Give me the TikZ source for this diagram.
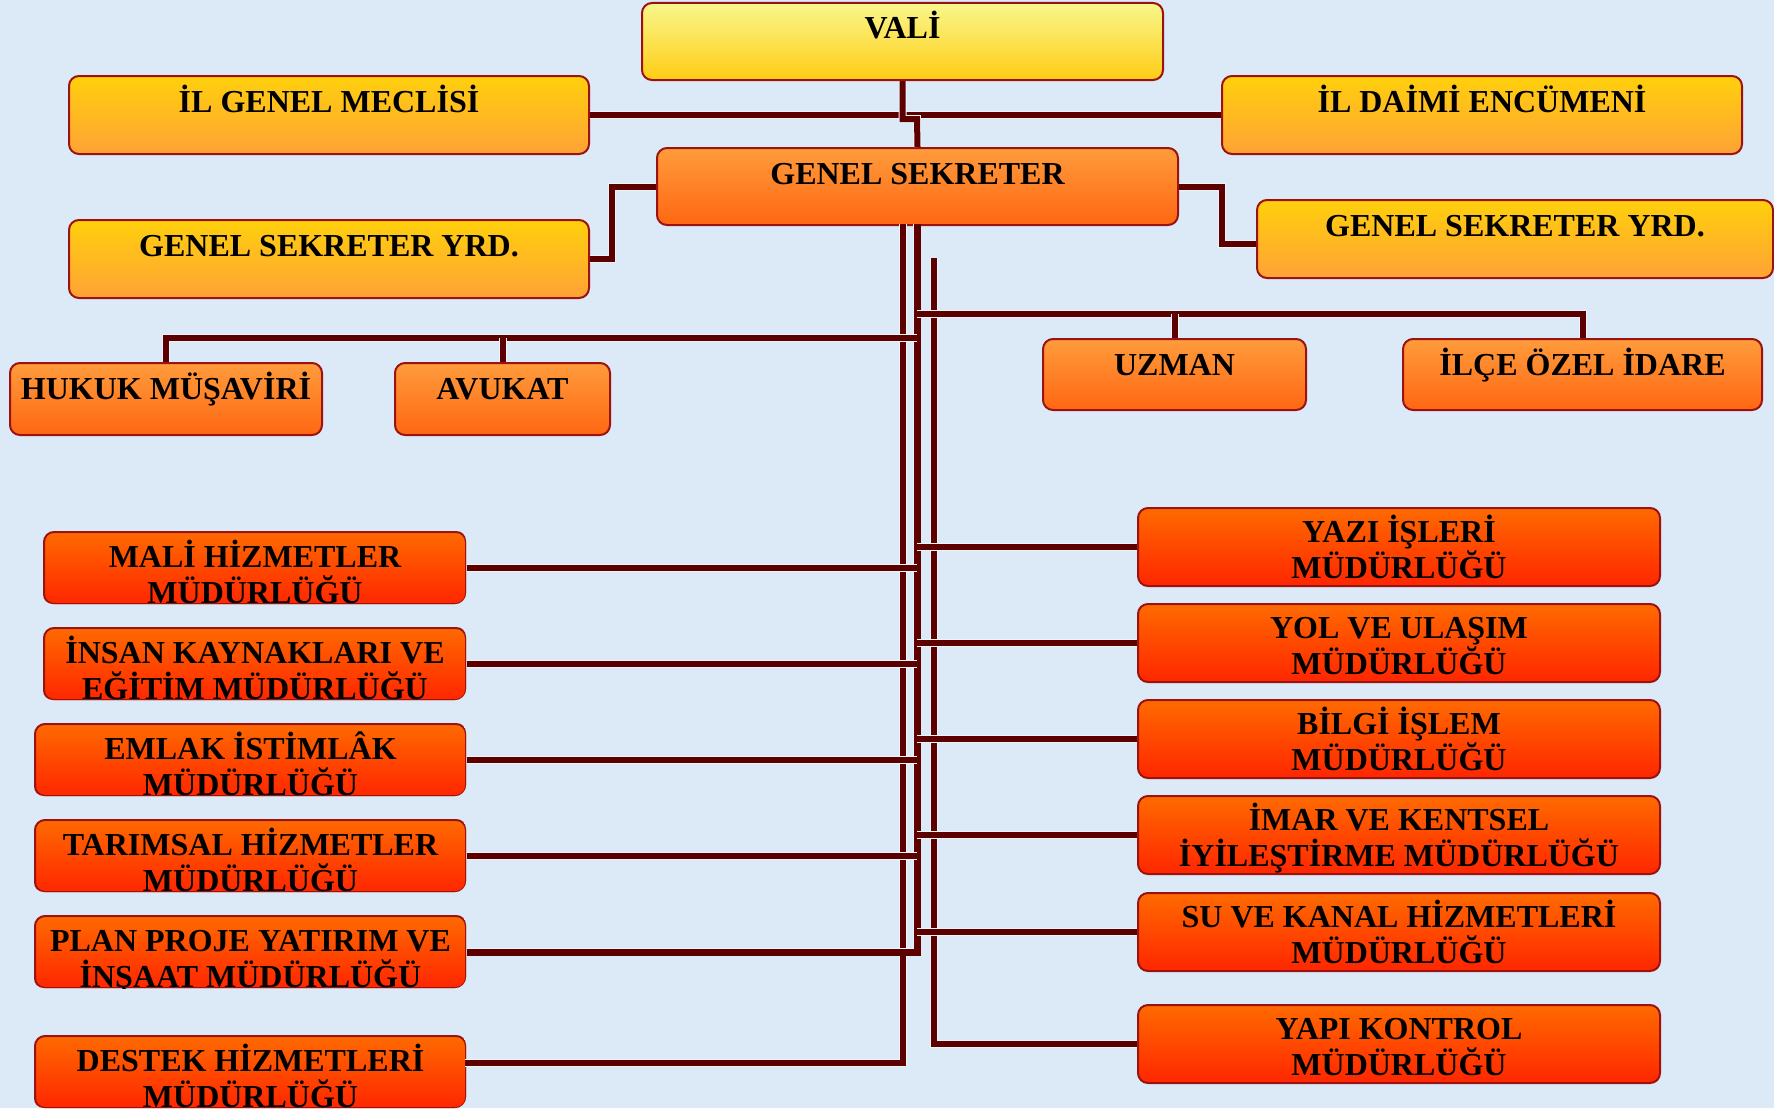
\documentclass[tikz,border=0pt]{standalone}
\usepackage{fontspec}
\setmainfont{Liberation Serif}
\usepackage{tikz}
\usetikzlibrary{calc}

\definecolor{sky}{HTML}{DCE9F6}
\definecolor{linkred}{HTML}{5C0000}
\definecolor{linkedge}{HTML}{EEF3FA}
\definecolor{edgered}{HTML}{9A1212}
\definecolor{valitop}{HTML}{F9F78C}
\definecolor{valibot}{HTML}{FFCC14}
\definecolor{goldtop}{HTML}{FFD00C}
\definecolor{goldbot}{HTML}{FFA236}
\definecolor{orangetop}{HTML}{FF9C3C}
\definecolor{orangebot}{HTML}{FF6612}
\definecolor{redtop}{HTML}{FF6A00}
\definecolor{redbot}{HTML}{FF2600}

\begin{document}
\begin{tikzpicture}[x=1pt, y=-1pt,
	unit/.style={draw=edgered, line width=2pt, rounded corners=10pt, inner sep=0pt,
	  anchor=north west, align=center, font=\fontsize{32}{36}\selectfont\bfseries},
	valibox/.style={unit, top color=valitop, bottom color=valibot},
	goldbox/.style={unit, top color=goldtop, bottom color=goldbot},
	orangebox/.style={unit, top color=orangetop, bottom color=orangebot},
	redbox/.style={unit, top color=redtop, bottom color=redbot},
	link/.style={draw=linkred, line width=6pt, preaction={draw=linkedge, line width=8pt}}]

		\useasboundingbox (0,0) rectangle (1774,1108);
		\fill[sky] (0,0) rectangle (1774,1108);

		\node[valibox, minimum width=521pt, text height=36pt, text depth=41pt] (vali) at (641,2) {VALİ};
		\node[goldbox, minimum width=520pt, text height=36pt, text depth=42pt] (meclis) at (68,75) {İL GENEL MECLİSİ};
		\node[goldbox, minimum width=520pt, text height=36pt, text depth=42pt] (encumen) at (1221,75) {İL DAİMİ ENCÜMENİ};
		\node[orangebox, minimum width=521pt, text height=36pt, text depth=41pt] (gs) at (656,147) {GENEL SEKRETER};
		\node[goldbox, minimum width=520pt, text height=36pt, text depth=42pt] (gsyl) at (68,219) {GENEL SEKRETER YRD.};
		\node[goldbox, minimum width=516pt, text height=36pt, text depth=42pt] (gsyr) at (1256,199) {GENEL SEKRETER YRD.};

		\node[orangebox, minimum width=312pt, text height=36pt, text depth=36pt] (hukuk) at (9,362) {HUKUK MÜŞAVİRİ};
		\node[orangebox, minimum width=215pt, text height=36pt, text depth=36pt] (avukat) at (394,362) {AVUKAT};
		\node[orangebox, minimum width=263pt, text height=36pt, text depth=35pt] (uzman) at (1042,338) {UZMAN};
		\node[orangebox, minimum width=359pt, text height=36pt, text depth=35pt] (ilce) at (1402,338) {İLÇE ÖZEL İDARE};

		\begin{scope}
			\clip[rounded corners=11pt] (42,530) rectangle (466,604) (42,626) rectangle (466,700)
			  (33,722) rectangle (466,796) (33,818) rectangle (466,892)
			  (33,914) rectangle (466,988) (33,1034) rectangle (466,1108);
			\node[redbox, minimum width=422pt, text height=71.5pt, text depth=0.5pt] (mali) at (43,531) {MALİ HİZMETLER\\MÜDÜRLÜĞÜ};
			\node[redbox, minimum width=422pt, text height=71.5pt, text depth=0.5pt] (insan) at (43,627) {İNSAN KAYNAKLARI VE\\EĞİTİM MÜDÜRLÜĞÜ};
			\node[redbox, minimum width=431pt, text height=71.5pt, text depth=0.5pt] (emlak) at (34,723) {EMLAK İSTİMLÂK\\MÜDÜRLÜĞÜ};
			\node[redbox, minimum width=431pt, text height=71.5pt, text depth=0.5pt] (tarim) at (34,819) {TARIMSAL HİZMETLER\\MÜDÜRLÜĞÜ};
			\node[redbox, minimum width=431pt, text height=71.5pt, text depth=0.5pt] (plan) at (34,915) {PLAN PROJE YATIRIM VE\\İNŞAAT MÜDÜRLÜĞÜ};
			\node[redbox, minimum width=431pt, text height=71.5pt, text depth=0.5pt] (destek) at (34,1035) {DESTEK HİZMETLERİ\\MÜDÜRLÜĞÜ};
		\end{scope}

		\node[redbox, minimum width=522pt, text height=70pt, text depth=8pt] (yazi) at (1137,507) {YAZI İŞLERİ\\MÜDÜRLÜĞÜ};
		\node[redbox, minimum width=522pt, text height=70pt, text depth=8pt] (yol) at (1137,603) {YOL VE ULAŞIM\\MÜDÜRLÜĞÜ};
		\node[redbox, minimum width=522pt, text height=70pt, text depth=8pt] (bilgi) at (1137,699) {BİLGİ İŞLEM\\MÜDÜRLÜĞÜ};
		\node[redbox, minimum width=522pt, text height=70pt, text depth=8pt] (imar) at (1137,795) {İMAR VE KENTSEL\\İYİLEŞTİRME MÜDÜRLÜĞÜ};
		\node[redbox, minimum width=522pt, text height=70pt, text depth=8pt] (su) at (1137,892) {SU VE KANAL HİZMETLERİ\\MÜDÜRLÜĞÜ};
		\node[redbox, minimum width=522pt, text height=70pt, text depth=8pt] (yapi) at (1137,1004) {YAPI KONTROL\\MÜDÜRLÜĞÜ};

		\coordinate (jog) at (917,119);
		\coordinate (gsrbend) at (1222,244);
		\coordinate (trunkA) at (903,224);
		\coordinate (trunkB) at (917,224);
		\coordinate (trunkC) at (934,258);
		\coordinate (uzbus) at (917,314);
		\coordinate (hkbus) at (917,338);
		\coordinate (destekin) at (465,1063);

		\draw[link] (meclis.east) -- (encumen.west);
		\draw[link] (vali.south) |- (jog) -- (gs.north);
		\draw[link] (gs.west) -- ++(-44,0) |- (gsyl.east);
		\draw[link] (gs.east) -| (gsrbend) -- (gsyr.west |- gsrbend);

		\draw[link] (trunkA) |- (destekin);
		\draw[link] (trunkC) |- (yapi.west);
		\draw[link, line width=7pt] (trunkB) |- (plan.east);

		\draw[link] (hkbus) -| (hukuk.north);
		\draw[link] (avukat.north) -- (avukat.north |- hkbus);
		\draw[link] (uzbus) -| (ilce.north);
		\draw[link] (uzman.north) -- (uzman.north |- uzbus);

		\draw[link] (mali.east) -- (mali.east -| trunkB);
		\draw[link] (insan.east) -- (insan.east -| trunkB);
		\draw[link] (emlak.east) -- (emlak.east -| trunkB);
		\draw[link] (tarim.east) -- (tarim.east -| trunkB);

		\draw[link] (trunkB |- yazi.west) -- (yazi.west);
		\draw[link] (trunkB |- yol.west) -- (yol.west);
		\draw[link] (trunkB |- bilgi.west) -- (bilgi.west);
		\draw[link] (trunkB |- imar.west) -- (imar.west);
		\draw[link] (trunkB |- su.west) -- (su.west);

\end{tikzpicture}
\end{document}
